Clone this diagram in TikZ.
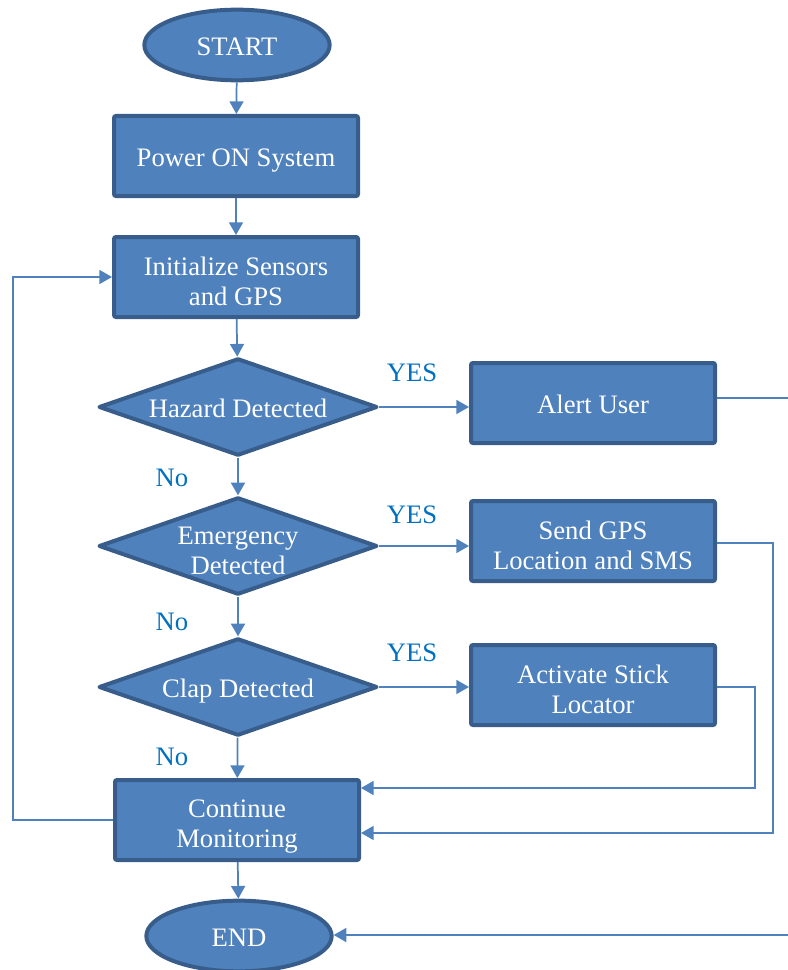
\documentclass[tikz,border=0pt]{standalone}
\usepackage{fontspec}
\setmainfont{Liberation Serif}
\usetikzlibrary{shapes.geometric, arrows.meta, positioning}
\definecolor{flowblue}{RGB}{79, 129, 189}
\definecolor{edgeblue}{RGB}{56, 93, 138}
\definecolor{answerblue}{RGB}{0, 112, 192}

\begin{document}
\begin{tikzpicture}[
    x=0.75pt, y=-0.75pt,
    textfont/.style={font=\fontsize{20}{22.5}\selectfont},
    linestrut/.style={execute at begin node={\rule[-4pt]{0pt}{24pt}}},
    twolines/.style={execute at begin node={\rule[-4pt]{0pt}{50pt}}},
    block/.style={rectangle, draw=edgeblue, fill=flowblue, line width=3pt, rounded corners=1.5pt, minimum width=183pt, minimum height=60pt, inner sep=2pt, align=center, text=white, textfont, linestrut},
    decision/.style={diamond, draw=edgeblue, fill=flowblue, line width=3pt, line join=round, aspect=2.8, minimum width=209pt, minimum height=73pt, inner sep=0pt, align=center, text=white, textfont, linestrut},
    terminal/.style={ellipse, draw=edgeblue, fill=flowblue, line width=3pt, minimum width=139pt, minimum height=53pt, inner sep=0pt, text=white, textfont, linestrut},
    arrow/.style={-{Triangle[length=9.5pt, width=10.5pt]}, line width=1.3pt, flowblue},
    line/.style={line width=1.3pt, flowblue},
    answer/.style={text=answerblue, textfont}
]
    \useasboundingbox (0, 0) rectangle (788, 970);

    % Main column
    \node[terminal] (start) at (237, 45) {START};
    \node[block] (power) at (236, 156) {Power ON System};
    \node[block, twolines] (init) at (236, 277) {Initialize Sensors\\and GPS};
    \node[decision] (hazard) at (238, 407) {Hazard Detected};
    \node[decision, twolines, inner ysep=-13pt] (emergency) at (238, 546) {Emergency\\Detected};
    \node[decision] (clap) at (238, 687) {Clap Detected};
    \node[block, twolines] (monitor) at (237, 820) {Continue\\Monitoring};
    \node[terminal] (end) at (239, 936) {END};

    % Actions
    \node[block] (alert) at (593, 403) {Alert User};
    \node[block, twolines] (send) at (593, 541) {Send GPS\\Location and SMS};
    \node[block, twolines] (locate) at (593, 685) {Activate Stick\\Locator};

    \draw[arrow] (start) -- (power);
    \draw[arrow] (power) -- (init);
    \draw[arrow] (init) -- (hazard);
    \draw[arrow] (hazard) -- (emergency);
    \draw[arrow] (emergency) -- (clap);
    \draw[arrow] (clap) -- (monitor);
    \draw[arrow] (monitor) -- (end);

    % Yes branches
    \draw[arrow] (hazard.east) -- (hazard.east -| alert.west);
    \draw[arrow] (emergency.east) -- (emergency.east -| send.west);
    \draw[arrow] (clap.east) -- (clap.east -| locate.west);
    \node[answer] (yes1) at (412, 373) {YES};
    \node[answer] (yes2) at (412, 515) {YES};
    \node[answer] (yes3) at (412, 653) {YES};
    \node[answer] (no1) at (172, 478) {No};
    \node[answer] (no2) at (172, 622) {No};
    \node[answer] (no3) at (172, 757) {No};

    % Returns
    \coordinate (alertout) at (788, 398);
    \coordinate (endin) at (788, 935);
    \coordinate (sendturn) at (773, 833);
    \coordinate (locateturn) at (755, 788);
    \coordinate (loopturn) at (13, 820);
    \draw[line] (alert.east |- alertout) -- (alertout);
    \draw[arrow] (send.east |- 0, 543) -| (sendturn) -- (sendturn -| monitor.east);
    \draw[arrow] (locate.east |- 0, 687) -| (locateturn) -- (locateturn -| monitor.east);
    \draw[arrow] (monitor.west |- loopturn) -- (loopturn) |- (init.west);
    \draw[arrow] (endin) -- (end.east |- endin);

\end{tikzpicture}
\end{document}
